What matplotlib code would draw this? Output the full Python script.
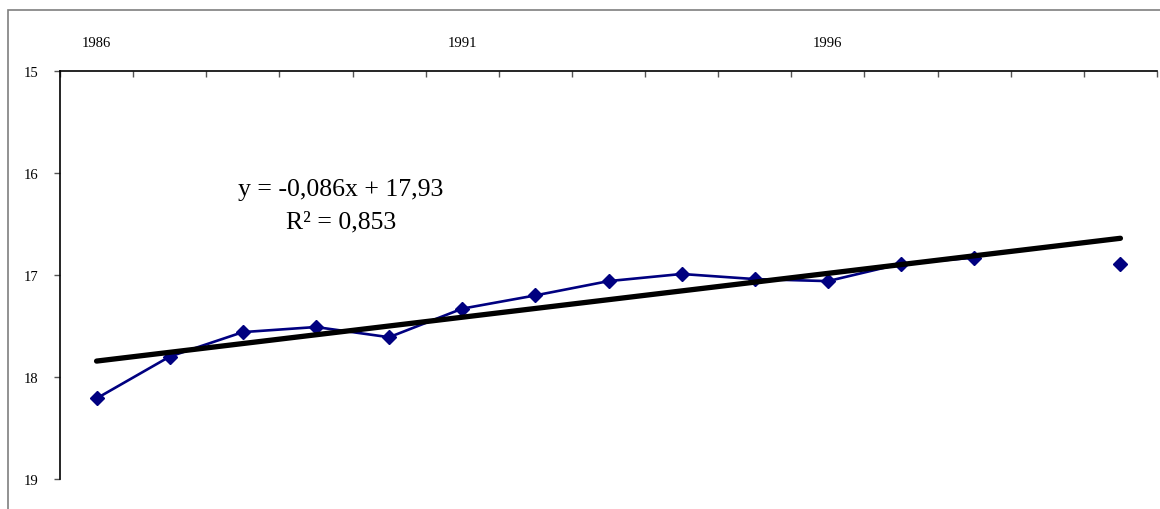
import numpy as np
import matplotlib
matplotlib.use("Agg")
import matplotlib.pyplot as plt
from matplotlib.patches import Rectangle

years = list(range(1986, 2001))
values = [18.21, 17.80, 17.56, 17.51, 17.61, 17.33, 17.20, 17.06, 16.99, 17.04,
          17.06, 16.89, 16.83, np.nan, 16.89]
label_years = [1986, 1991, 1996]
y_ticks = [15, 16, 17, 18, 19]
trend_slope = -0.086
trend_intercept = 17.93
eq_text = "y = -0,086x + 17,93"
r2_text = "R² = 0,853"

plt.rcParams['font.family'] = ['Liberation Serif', 'DejaVu Serif']

fig = plt.figure(figsize=(11.6, 5.1), dpi=100)
W, H = 1160, 510
ax = fig.add_axes([60 / W, 1 - 480 / H, (1157 - 60) / W, (480 - 72) / H])

fig.patches.append(Rectangle((8 / W, -0.5), 2, 1.5 - 11 / H, transform=fig.transFigure,
                             fill=False, edgecolor='#7f7f7f', linewidth=1.2))

x = np.arange(1, len(years) + 1)
vals = np.array(values, dtype=float)

# series: consecutive points joined, missing value breaks the line
ax.plot(x, vals, color='#000080', linewidth=1.9, marker='D', markersize=7,
        markerfacecolor='#000080', markeredgecolor='#000080', zorder=3)

# linear trend line
xt = np.array([x[0], x[-1]])
ax.plot(xt, trend_slope * xt + trend_intercept, color='black', linewidth=3.8,
        solid_capstyle='round', zorder=4)

fig.text(341 / W, 1 - 190 / H, eq_text, ha='center', va='center', fontsize=18.5)
fig.text(341 / W, 1 - 222 / H, r2_text, ha='center', va='center', fontsize=18.5)

ax.set_xlim(0.5, len(years) + 0.5)
ax.set_ylim(19, 15)

ax.spines['bottom'].set_visible(False)
ax.spines['right'].set_visible(False)
for s in ('top', 'left'):
    ax.spines[s].set_linewidth(1.2)
    ax.spines[s].set_color('black')

ax.xaxis.tick_top()
ax.set_xticks(np.arange(0.5, len(years) + 1, 1.0))
ax.set_xticklabels([])
ax.set_xticks([years.index(yv) + 1 for yv in label_years], minor=True)
ax.set_xticklabels([str(yv) for yv in label_years], minor=True)
ax.tick_params(axis='x', which='major', direction='in', length=4, width=1, color='#555555', top=True, bottom=False)
ax.tick_params(axis='x', which='minor', length=0, pad=16, labelsize=10.5, top=True, bottom=False,
               labeltop=True, labelbottom=False)

ax.set_yticks(y_ticks)
ax.set_yticklabels([str(v) for v in y_ticks])
ax.tick_params(axis='y', direction='out', length=4, width=1, color='#555555', pad=11.5, labelsize=10.5)

fig.savefig("out.png", dpi=100)
